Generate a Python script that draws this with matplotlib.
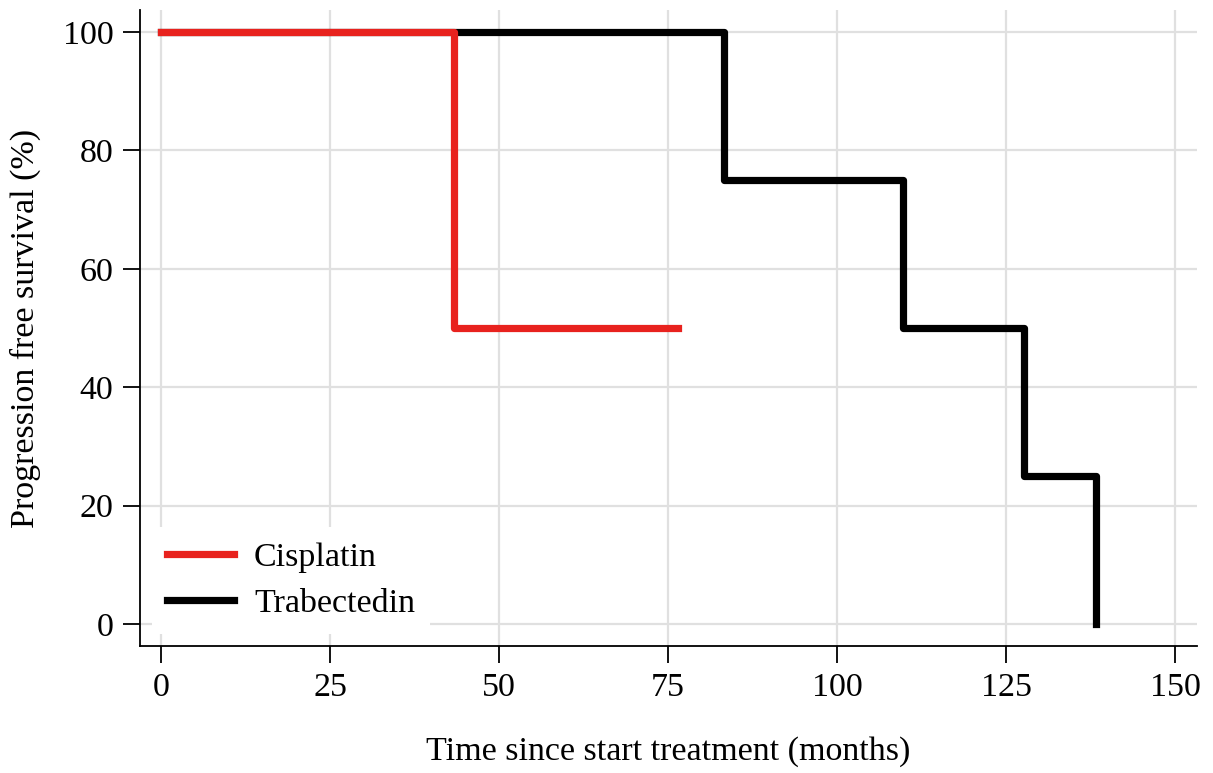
import numpy as np
import matplotlib.pyplot as plt

# Kaplan-Meier style progression free survival

cis_time = [0, 43.3, 76.5]
cis_surv = [100, 50, 50]

tra_time = [0, 83.3, 109.8, 127.6, 138.3]
tra_surv = [100, 75, 50, 25, 0]

xticks = [0, 25, 50, 75, 100, 125, 150]
yticks = [0, 20, 40, 60, 80, 100]

plt.rcParams['font.family'] = ['Liberation Serif', 'DejaVu Serif']
plt.rcParams['font.size'] = 24.5

fig = plt.figure(figsize=(12.13, 7.73), dpi=100)
ax = fig.add_axes([0.1154, 0.1643, 0.8714, 0.8227])

ax.step(tra_time, tra_surv, where='post', color='black', lw=5.2,
        solid_joinstyle='round', label='Trabectedin', zorder=3)
ax.step(cis_time, cis_surv, where='post', color='#e8221e', lw=5.2,
        solid_joinstyle='round', label='Cisplatin', zorder=4)

ax.set_xlim(-3.1, 153.2)
ax.set_ylim(-3.7, 103.7)
ax.set_xticks(xticks)
ax.set_yticks(yticks)
ax.grid(True, color='#e0e0e0', lw=1.6)
ax.set_axisbelow(True)

for s in ['top', 'right']:
    ax.spines[s].set_visible(False)
for s in ['left', 'bottom']:
    ax.spines[s].set_linewidth(1.3)
ax.tick_params(length=12, width=1.3, pad=7)

ax.set_xlabel("Time since start treatment (months)", labelpad=24)
ax.set_ylabel("Progression free survival (%)", labelpad=16)

h, l = ax.get_legend_handles_labels()
leg = ax.legend(h[::-1], l[::-1], loc='lower left', frameon=True,
                facecolor='white', edgecolor='none', framealpha=1,
                fancybox=False, handlelength=1.95, handletextpad=0.6,
                labelspacing=0.45, borderpad=0.45, borderaxespad=0.35)
leg.set_zorder(5)

plt.savefig('out.png', dpi=100)
